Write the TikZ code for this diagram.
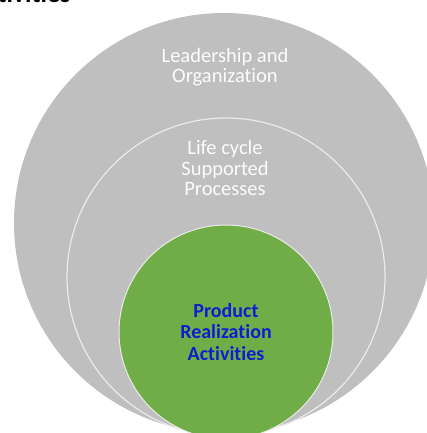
\documentclass[tikz,border=0pt]{standalone}
\usepackage{fontspec}
\setmainfont{Carlito}[Ligatures=NoCommon]
\definecolor{ringgray}{RGB}{191,191,191}
\definecolor{ringline}{RGB}{235,235,235}
\definecolor{coregreen}{RGB}{112,173,71}
\definecolor{coreblue}{RGB}{10,30,210}
\tikzset{
  ringtext/.style={align=center,text=white!95!ringgray,font=\fontsize{20.5}{20.5}\selectfont},
  coretext/.style={align=center,text=coreblue,font=\bfseries\fontsize{20}{21.5}\selectfont}
}
\begin{document}
\begin{tikzpicture}[x=1pt,y=1pt]
        \def\W{427} \def\H{433}
        \useasboundingbox (0,0) rectangle (\W,\H);
        \clip (0,0) rectangle (\W,\H);

        \fill[ringgray] (224,210) circle (210);
        \draw[ringline,line width=1.2pt] (226,156) circle (159);
        \filldraw[fill=coregreen,draw=ringline,line width=1pt] (226,101) circle (107);

        \node (lead) at (225,366) [ringtext] {Leadership and\\Organization};
        \node (life) at (225,265) [ringtext] {Life cycle\\Supported\\Processes};
        \node (core) at (226,101) [coretext] {Product\\Realization\\Activities};

        \node (head) at (74,430) [anchor=base east,font=\bfseries\fontsize{26}{30}\selectfont] {Activities};
\end{tikzpicture}
\end{document}
